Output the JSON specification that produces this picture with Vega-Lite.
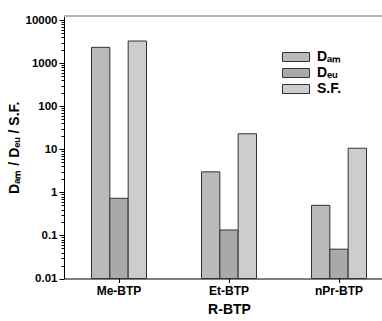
{
  "$schema": "https://vega.github.io/schema/vega-lite/v6.json",
  "autosize": "none",
  "width": 318,
  "height": 262.5,
  "padding": {"left": 64, "top": 16, "right": 0, "bottom": 42.5},
  "background": "white",
  "config": {
    "view": {"stroke": null},
    "font": "Liberation Sans",
    "axis": {"labelFont": "Liberation Sans", "titleFont": "Liberation Sans", "labelFontWeight": "bold", "titleFontWeight": "bold", "labelColor": "#000", "titleColor": "#000", "domainColor": "#000", "tickColor": "#000", "grid": false}
  },
  "data": {
    "values": [
      {"ligand": "Me-BTP", "series": "Dₐₘ", "value": 2340},
      {"ligand": "Me-BTP", "series": "Dₑᵤ", "value": 0.73},
      {"ligand": "Me-BTP", "series": "S.F.", "value": 3280},
      {"ligand": "Et-BTP", "series": "Dₐₘ", "value": 3.0},
      {"ligand": "Et-BTP", "series": "Dₑᵤ", "value": 0.134},
      {"ligand": "Et-BTP", "series": "S.F.", "value": 23},
      {"ligand": "nPr-BTP", "series": "Dₐₘ", "value": 0.5},
      {"ligand": "nPr-BTP", "series": "Dₑᵤ", "value": 0.048},
      {"ligand": "nPr-BTP", "series": "S.F.", "value": 10.6}
    ]
  },
  "layer": [
    {
      "mark": {"type": "rule", "color": "#b4b4b4", "strokeWidth": 1},
      "encoding": {"y": {"datum": 12500, "type": "quantitative"}}
    },
    {
      "mark": {"type": "bar", "stroke": "#333333", "strokeWidth": 1},
      "encoding": {
        "x": {
          "field": "ligand", "type": "nominal",
          "sort": ["Me-BTP", "Et-BTP", "nPr-BTP"],
          "scale": {"range": [0, 330], "paddingInner": 0.5, "paddingOuter": 0.25},
          "axis": {"title": "R-BTP", "titleFontSize": 14, "titlePadding": 6, "labelFontSize": 12, "labelAngle": 0, "tickSize": 4, "labelPadding": 3, "domainWidth": 1}
        },
        "xOffset": {"field": "series", "type": "nominal", "sort": ["Dₐₘ", "Dₑᵤ", "S.F."], "scale": {"paddingInner": 0, "paddingOuter": 0}},
        "y": {
          "field": "value", "type": "quantitative",
          "scale": {"type": "log", "domain": [0.01, 12500], "nice": false},
          "axis": {
            "title": "Dₐₘ / Dₑᵤ / S.F.",
            "titleFontSize": 14,
            "titlePadding": 4,
            "labelFontSize": 11.5,
            "labelPadding": 2,
            "labelOverlap": false,
            "labelBound": false,
            "values": [0.01,0.02,0.03,0.04,0.05,0.06,0.07,0.08,0.09,0.1,0.2,0.3,0.4,0.5,0.6,0.7,0.8,0.9,1,2,3,4,5,6,7,8,9,10,20,30,40,50,60,70,80,90,100,200,300,400,500,600,700,800,900,1000,2000,3000,4000,5000,6000,7000,8000,9000,10000],
            "labelExpr": "abs(log(datum.value)/LN10 - round(log(datum.value)/LN10)) < 1e-6 ? '' + datum.value : ''",
            "tickSize": {"condition": {"test": "abs(log(datum.value)/LN10 - round(log(datum.value)/LN10)) < 1e-6", "value": 5}, "value": 3}
          }
        },
        "y2": {"datum": 0.01},
        "fill": {
          "field": "series", "type": "nominal",
          "scale": {"domain": ["Dₐₘ", "Dₑᵤ", "S.F."], "range": ["#bababa", "#a9a9a9", "#cdcdcd"]},
          "legend": {
            "title": null,
            "orient": "none",
            "legendX": 225,
            "legendY": 34,
            "symbolType": "M-3,-1H3V1H-3Z",
            "symbolSize": 81,
            "symbolStrokeColor": "#333333",
            "symbolStrokeWidth": 1,
            "labelFont": "Liberation Sans",
            "labelFontWeight": "bold",
            "labelFontSize": 14,
            "labelColor": "#000",
            "rowPadding": 2,
            "labelOffset": 14
          }
        }
      }
    }
  ]
}
